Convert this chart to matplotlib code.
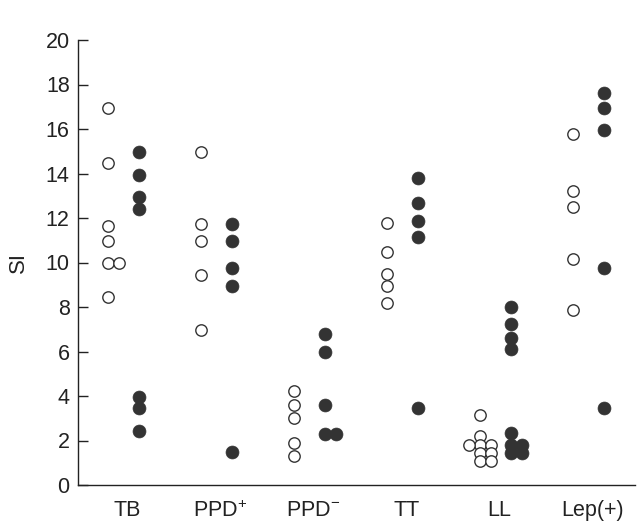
import matplotlib
matplotlib.use("Agg")
import matplotlib.pyplot as plt
from collections import Counter

plt.rcParams['font.family'] = ['Liberation Sans', 'DejaVu Sans']
plt.rcParams['mathtext.fontset'] = 'custom'
plt.rcParams['mathtext.rm'] = 'Liberation Sans'
plt.rcParams['mathtext.default'] = 'regular'

categories = ['TB', 'PPD$^{+}$', 'PPD$^{-}$', 'TT', 'LL', 'Lep(+)']

open_values = [
    [16.95, 14.45, 11.65, 10.95, 10.0, 10.0, 8.45],
    [14.95, 11.75, 10.95, 9.45, 6.97],
    [4.22, 3.6, 3.0, 1.9, 1.3],
    [11.76, 10.46, 9.48, 8.96, 8.17],
    [3.15, 2.2, 1.8, 1.8, 1.8, 1.44, 1.44, 1.08, 1.08],
    [15.76, 13.23, 12.48, 10.14, 7.87],
]

filled_values = [
    [14.95, 13.95, 12.93, 12.4, 3.97, 3.45, 2.43],
    [11.75, 10.95, 9.77, 8.96, 1.47],
    [6.77, 5.99, 3.58, 2.28, 2.28],
    [13.78, 12.69, 11.85, 11.16, 3.47],
    [7.98, 7.24, 6.62, 6.1, 2.35, 1.8, 1.8, 1.44, 1.44],
    [17.63, 16.93, 15.94, 9.74, 3.47],
]

yticks = [0, 2, 4, 6, 8, 10, 12, 14, 16, 18, 20]

fig = plt.figure(figsize=(6.42, 5.28), dpi=100)
ax = fig.add_axes([78/642, 43/528, (635-78)/642, (485-40)/528])

col_off_open = -0.165
col_off_filled = 0.17
step = 0.118
order = [0, 1, -1, 2, -2]


def spread(vals):
    seen = Counter()
    offs = []
    for v in vals:
        k = seen[v]
        offs.append(order[k] * step)
        seen[v] += 1
    return offs

dark = '#333333'
for i, (ov, fv) in enumerate(zip(open_values, filled_values)):
    xo = [i + col_off_open + o for o in spread(ov)]
    xf = [i + col_off_filled + o for o in spread(fv)]
    ax.plot(xo, ov, 'o', ms=8.2, mfc='white', mec=dark, mew=1.0, ls='none', zorder=3)
    ax.plot(xf, fv, 'o', ms=9.3, mfc=dark, mec=dark, mew=0.5, ls='none', zorder=3)

ax.set_xlim(-0.487, 5.5)
ax.set_ylim(0, 20)
ax.set_yticks(yticks)
ax.set_xticks([i + 0.04 for i in range(len(categories))])
ax.set_xticklabels(categories)
ax.tick_params(axis='y', direction='in', length=7, width=1, colors='#222222',
               labelsize=15.5, pad=6)
ax.tick_params(axis='x', length=0, labelsize=15.5, colors='#222222', pad=11)
for s in ['top', 'right']:
    ax.spines[s].set_visible(False)
for s in ['left', 'bottom']:
    ax.spines[s].set_color('#222222')
    ax.spines[s].set_linewidth(1)
ax.set_ylabel('SI', fontsize=16, color='#222222', labelpad=12)

fig.savefig('out.png', dpi=100)
